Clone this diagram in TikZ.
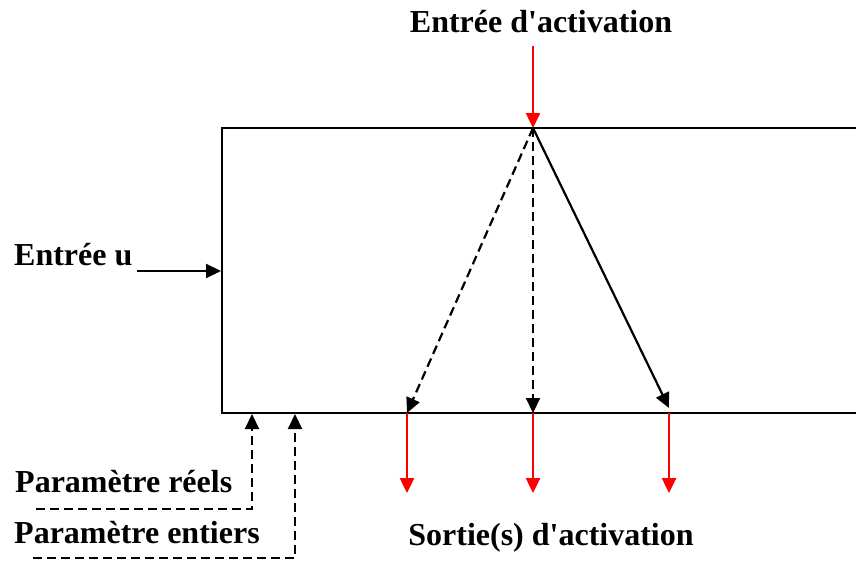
\documentclass[tikz,border=0pt]{standalone}
\usepackage{fontspec}
\setmainfont{Liberation Serif}
\usetikzlibrary{arrows.meta}
\begin{document}
\begin{tikzpicture}[x=1pt,y=-1pt,
  lbl/.style={inner sep=0pt,font=\fontsize{32}{32}\selectfont\bfseries},
  blk/.style={line width=2.5pt,black},
  act/.style={line width=2.5pt,red,-{Triangle[length=15pt,width=14pt]}},
  sig/.style={line width=2.2pt,black,-{Triangle[length=15pt,width=14pt]}},
  dsh/.style={sig,dash pattern=on 9pt off 5pt}]
\useasboundingbox (0,0) rectangle (856,562);
% block (open on the right, cropped)
\draw[blk] (870,128) -- (222,128) -- (222,413) -- (870,413);
\coordinate (apex) at (533,128);
\coordinate (top) at (533,46);
\coordinate (o1) at (407,413);
\coordinate (o2) at (533,413);
\coordinate (o3) at (669,408);
\coordinate (o3b) at (669,413);
\coordinate (e1) at (407,493);
\coordinate (e2) at (533,493);
\coordinate (e3) at (669,493);
% labels
\node[lbl,anchor=base] (ea) at (541,32) {Entrée d\textquotesingle activation};
\node[lbl,anchor=base west] (eu) at (14,265) {Entrée u};
\node[lbl,anchor=base west] (pr) at (15,492) {Paramètre réels};
\node[lbl,anchor=base west] (pe) at (14,543) {Paramètre entiers};
\node[lbl,anchor=base] (sa) at (551,545) {Sortie(s) d\textquotesingle activation};
% activation input
\draw[act] (top) -- (apex);
% input u
\coordinate (u0) at (137,271);
\coordinate (u1) at (221,271);
\draw[sig] (u0) -- (u1);
% internal transitions
\draw[dsh] (apex) -- (o1);
\draw[dsh] (apex) -- (o2);
\draw[sig] (apex) -- (o3);
% activation outputs
\draw[act] (o1) -- (e1);
\draw[act] (o2) -- (e2);
\draw[act] (o3b) -- (e3);
% parameters
\coordinate (pr0) at (36,509);
\coordinate (pr1) at (252,509);
\coordinate (pr2) at (252,414);
\coordinate (pe0) at (33,558);
\coordinate (pe1) at (295,558);
\coordinate (pe2) at (295,414);
\draw[dsh] (pr0) -- (pr1) -- (pr2);
\draw[dsh] (pe0) -- (pe1) -- (pe2);
\end{tikzpicture}
\end{document}
